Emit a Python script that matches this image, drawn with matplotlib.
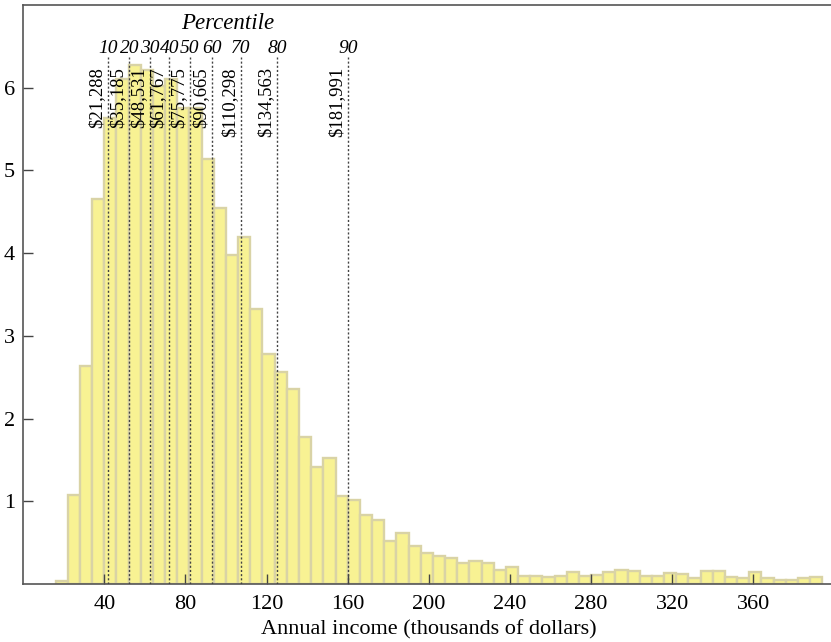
import numpy as np
import matplotlib
matplotlib.use("Agg")
import matplotlib.pyplot as plt

plt.rcParams['font.family'] = ['Liberation Serif', 'DejaVu Serif']

# histogram: bins of 6 (thousands of dollars) starting at 16
bin_start = 16
bin_width = 6
heights = [0.04, 1.08, 2.64, 4.66, 5.64, 6.10, 6.28, 6.22, 6.02, 6.10,
           5.76, 5.76, 5.14, 4.54, 3.98, 4.20, 3.33, 2.78, 2.56, 2.36,
           1.78, 1.41, 1.52, 1.065, 1.02, 0.83, 0.775, 0.52, 0.62, 0.46,
           0.38, 0.34, 0.31, 0.26, 0.28, 0.26, 0.17, 0.20, 0.10, 0.10,
           0.08, 0.10, 0.145, 0.10, 0.11, 0.15, 0.17, 0.16, 0.10, 0.10,
           0.13, 0.12, 0.07, 0.16, 0.16, 0.09, 0.07, 0.14, 0.07, 0.05,
           0.05, 0.07, 0.09]

# percentile markers
pct_names = ["10", "20", "30", "40", "50", "60", "70", "80", "90"]
pct_pos = [42.0, 52.3, 62.5, 72.0, 82.2, 93.2, 107.4, 125.3, 160.3]
pct_labels = ["$21,288", "$35,185", "$48,531", "$61,767", "$75,775",
              "$90,665", "$110,298", "$134,563", "$181,991"]

xticks = [40, 80, 120, 160, 200, 240, 280, 320, 360]
yticks = [1, 2, 3, 4, 5, 6]

fig = plt.figure(figsize=(8.31, 6.42), dpi=100)
ax = fig.add_axes([0.0279, 0.0903, 0.9762, 0.9019])

lefts = bin_start + bin_width * np.arange(len(heights))
ax.bar(lefts, heights, width=bin_width, align='edge',
       color='#F8F293', edgecolor='#D9D3A6', linewidth=1.7, zorder=1)

for name, pos, lab in zip(pct_names, pct_pos, pct_labels):
    ax.plot([pos, pos], [0, 6.37], color='#444444', lw=1.0,
            linestyle=(0, (1.5, 1.5)), zorder=3)
    ax.annotate(lab, xy=(pos, 6.25), xytext=(-2, 0), textcoords='offset points',
                rotation=90, ha='right', va='top', fontsize=13.5, zorder=4)
    ax.text(pos, 6.48, name, ha='center', va='center', fontsize=14,
            style='italic')

ax.text(100.7, 6.78, "Percentile", ha='center', va='center',
        fontsize=16.5, style='italic')

ax.set_xlim(0, 400)
ax.set_ylim(0, 7.0)
ax.set_xticks(xticks)
ax.set_yticks(yticks)
ax.tick_params(direction='in', length=7, width=1.0, color='#444444',
               labelsize=16)
ax.tick_params(axis='x', pad=8)
ax.tick_params(axis='y', pad=6)
ax.spines['right'].set_visible(False)
for s in ['left', 'top', 'bottom']:
    ax.spines[s].set_color('#555555')
    ax.spines[s].set_linewidth(1.2)

ax.set_xlabel("Annual income (thousands of dollars)", fontsize=16, labelpad=4)

fig.savefig("out.png", dpi=100)
